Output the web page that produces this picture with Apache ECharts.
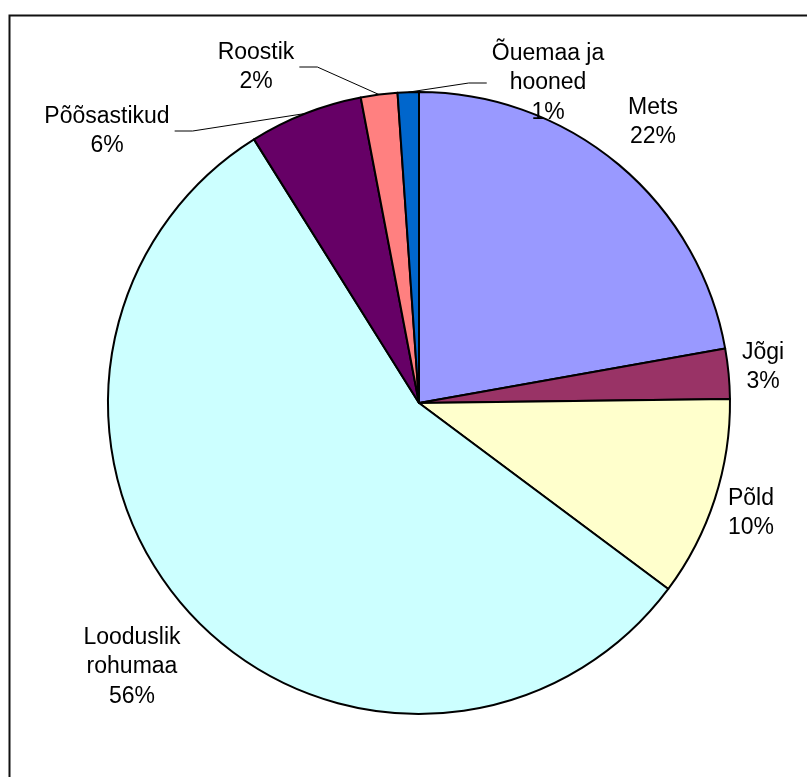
<!DOCTYPE html>
<html>
<head>
<meta charset="utf-8">
<style>
  html, body { margin: 0; padding: 0; background: #fff; }
  #chart { width: 807px; height: 777px; }
</style>
<script src="https://cdn.jsdelivr.net/npm/echarts@6/dist/echarts.min.js"></script>
</head>
<body>
<div id="chart"></div>
<script>
// ---- data ----
const categories = ['Mets', 'Jõgi', 'Põld', 'Looduslik\nrohumaa', 'Põõsastikud', 'Roostik', 'Õuemaa ja\nhooned'];
const shares = [22.2, 2.6, 10.4, 55.9, 5.9, 1.9, 1.1];
const sliceColors = ['#9999FF', '#993366', '#FFFFCC', '#CCFFFF', '#660066', '#FF8080', '#0066CC'];

// ---- layout (label centres, leader sides) ----
const labelCenters = [[653, 122], [763, 367], [751, 513], [132, 667], [107, 131], [256, 67], [548, 83]];
const leaderSide = [null, null, null, null, 'right', 'right', 'left'];

const chart = echarts.init(document.getElementById('chart'), null, { renderer: 'canvas' });

const data = categories.map((name, i) => ({
  name: name,
  value: shares[i],
  itemStyle: { color: sliceColors[i] },
  labelLine: { show: leaderSide[i] !== null }
}));

chart.setOption({
  animation: false,
  backgroundColor: '#ffffff',
  graphic: [{
    type: 'rect',
    left: 7, top: 13,
    shape: { width: 840, height: 820 },
    style: { fill: 'none', stroke: '#111', lineWidth: 2 },
    silent: true
  }],
  series: [{
    type: 'pie',
    center: [419, 403],
    radius: 311,
    startAngle: 90,
    clockwise: true,
    avoidLabelOverlap: false,
    emphasis: { disabled: true },
    itemStyle: { borderColor: '#000', borderWidth: 2 },
    label: {
      show: true,
      position: 'outside',
      color: '#000',
      fontFamily: 'Liberation Sans, Arial, sans-serif',
      fontSize: 23,
      lineHeight: 29.5,
      align: 'center',
      formatter: p => p.name + '\n' + Math.round(p.percent) + '%'
    },
    labelLine: {
      show: false,
      length: 20,
      length2: 20,
      lineStyle: { color: '#000', width: 1 }
    },
    labelLayout: function (p) {
      const c = labelCenters[p.dataIndex];
      const w = p.labelRect.width;
      const out = { x: c[0], y: c[1], align: 'center', verticalAlign: 'middle' };
      const side = leaderSide[p.dataIndex];
      if (side && p.labelLinePoints) {
        const start = p.labelLinePoints[0];
        const sx = side === 'right' ? c[0] + w / 2 + 5 : c[0] - w / 2 - 5;
        const ex = side === 'right' ? sx + 18 : sx - 18;
        out.labelLinePoints = [start, [ex, c[1]], [sx, c[1]]];
      }
      return out;
    },
    data: data
  }]
});
</script>
</body>
</html>
